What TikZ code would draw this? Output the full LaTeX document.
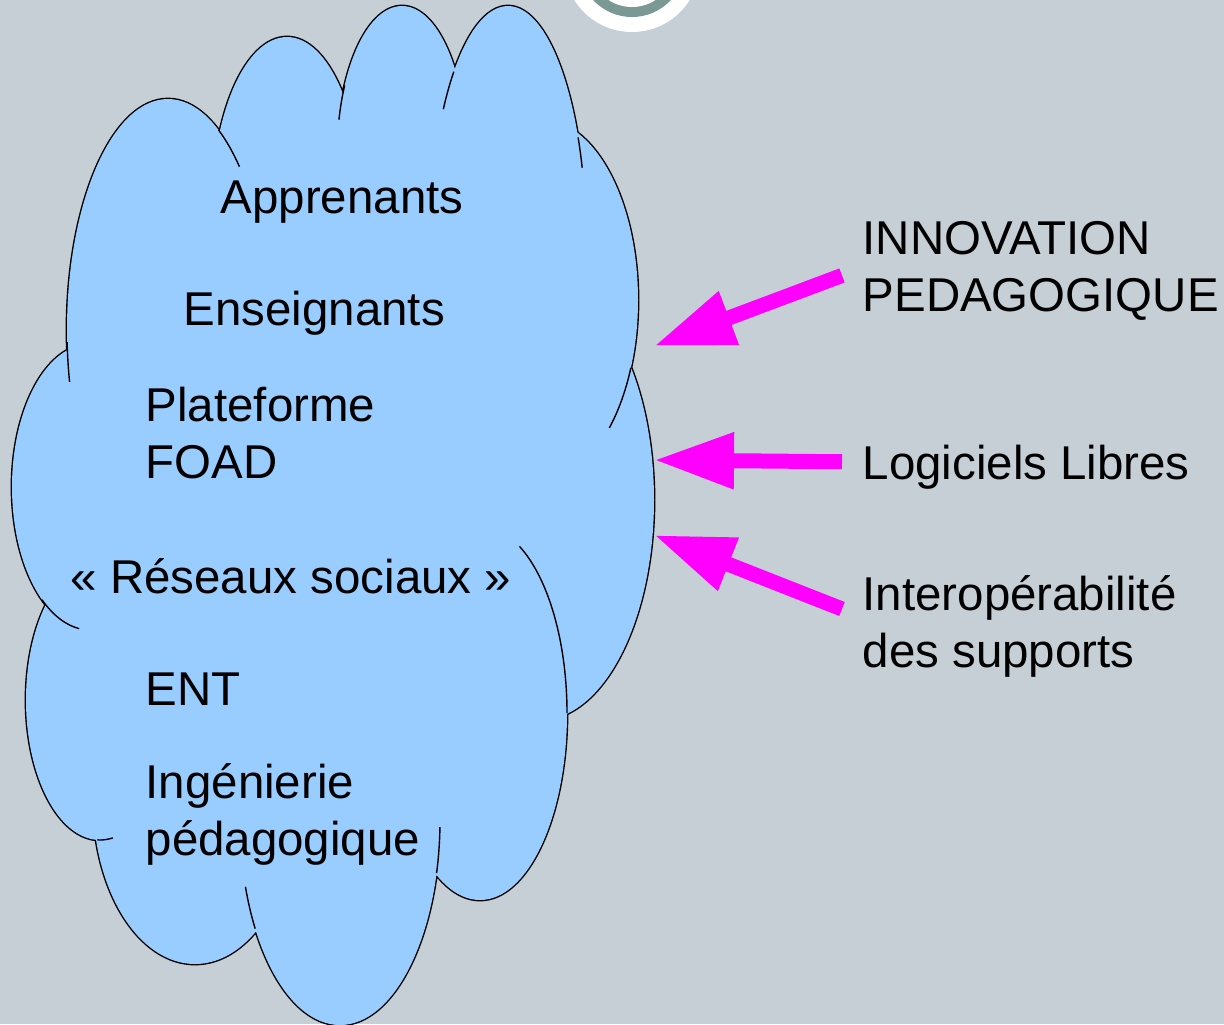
\documentclass[tikz,border=0pt]{standalone}
\usepackage{fontspec}
\setmainfont{Liberation Sans}
\definecolor{slidegray}{RGB}{197, 207, 213}
\definecolor{cloudblue}{RGB}{153, 204, 255}
\definecolor{arrowpink}{RGB}{255, 0, 255}
\definecolor{ringgray}{RGB}{122, 152, 148}
\usetikzlibrary{arrows.meta}

\begin{document}
\begin{tikzpicture}[
  lobes/.style={draw=black, line width=0.8pt, fill=cloudblue, postaction={fill=cloudblue}},
  stub/.style={draw=black, line width=0.4pt},
  cloudtext/.style={anchor=base west, inner sep=0pt, align=left, font=\fontsize{13.5}{16.2}\selectfont},
  sidetext/.style={cloudtext, inner sep=0.2cm},
  pinkarrow/.style={-{Triangle[length=0.8cm, width=0.53cm]}, line width=0.15cm, arrowpink}
]
  \useasboundingbox (0,0) rectangle (12.24,-10.24);
  \clip (0,0) rectangle (12.24,-10.24);
  \fill[slidegray] (0,0) rectangle (12.24,-10.24);

  % Ring at the top edge
  \fill[white] (6.32,0.36) circle (0.68);
  \fill[ringgray] (6.32,0.36) circle (0.53);
  \fill[white] (6.32,0.36) circle (0.43);

  % Cloud
  \path[lobes] \foreach \lx/\ly/\la/\lb in {
      1.68/-3.30/1.01/2.31, 2.87/-2.07/0.75/1.70, 4.02/-1.56/0.65/1.50,
      5.08/-2.40/0.78/2.34, 5.40/-3.00/0.98/1.81, 5.40/-5.00/1.14/2.20,
      4.80/-7.13/0.87/1.87, 3.40/-8.20/1.00/2.05, 1.95/-8.00/1.02/1.64,
      1.00/-7.00/0.74/1.40, 0.90/-4.87/0.78/1.43}
    {(\lx,\ly) ellipse [x radius=\la, y radius=\lb]};
  \fill[cloudblue] (0.76,-3.50) -- (2.22,-1.40) -- (3.44,-0.98) -- (4.52,-0.72)
    -- (5.75,-1.45) -- (6.22,-3.68) -- (5.60,-7.05) -- (4.32,-8.62)
    -- (2.55,-9.15) -- (1.00,-8.26) -- (0.52,-6.00) -- cycle;

  % Inner arcs of the cloud
  \foreach \lx/\ly/\la/\lb/\from/\to in {
      1.68/-3.30/1.01/2.31/60/45, 1.68/-3.30/1.01/2.31/183/193,
      4.02/-1.56/0.65/1.50/152/166, 5.08/-2.40/0.78/2.34/134/146,
      5.08/-2.40/0.78/2.34/26/18, 5.40/-3.00/0.98/1.81/-22/-45,
      4.80/-7.13/0.87/1.87/0/63, 3.40/-8.20/1.00/2.05/-2/-15,
      3.40/-8.20/1.00/2.05/212/199, 1.00/-7.00/0.74/1.40/-92/-80,
      0.90/-4.87/0.78/1.43/232/262}
    \draw[stub] (\lx,\ly) ++(\from:\la cm and \lb cm)
      arc [start angle=\from, end angle=\to, x radius=\la, y radius=\lb];

  % Cloud texts (base = last line)
  \node[cloudtext] (appr) at (2.20,-2.13) {Apprenants};
  \node[cloudtext] (ens) at (1.83,-3.25) {Enseignants};
  \node[cloudtext] (foad) at (1.45,-4.78) {Plateforme\\FOAD};
  \node[cloudtext] (reseaux) at (0.70,-5.93) {« Réseaux sociaux »};
  \node[cloudtext] (ent) at (1.45,-7.05) {ENT};
  \node[cloudtext] (inge) at (1.45,-8.55) {Ingénierie\\pédagogique};

  % Side texts
  \node[sidetext] (innov) at (8.42,-3.11) {INNOVATION\\PEDAGOGIQUE};
  \node[sidetext] (logi) at (8.42,-4.79) {Logiciels Libres};
  \node[sidetext] (interop) at (8.42,-6.67) {Interopérabilité\\des supports};

  % Arrows into the cloud
  \coordinate (tipinnov) at (6.54,-3.46);
  \coordinate (tiplogi) at (6.54,-4.60);
  \coordinate (tipinterop) at (6.54,-5.35);
  \draw[pinkarrow] ([yshift=-0.05cm]innov.west) -- (tipinnov);
  \draw[pinkarrow] ([yshift=0.05cm]logi.west) -- (tiplogi);
  \draw[pinkarrow] ([yshift=0.17cm]interop.west) -- (tipinterop);
\end{tikzpicture}
\end{document}
